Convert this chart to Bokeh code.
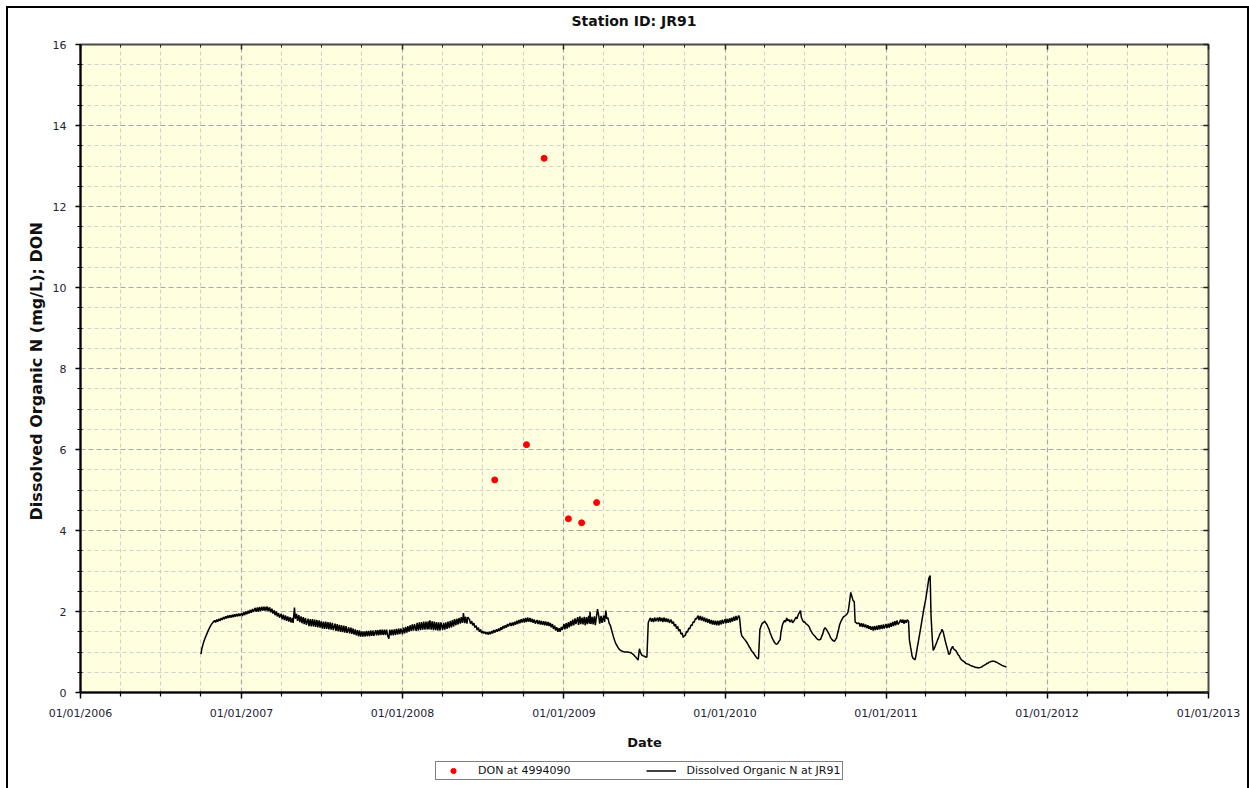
import pandas as pd
from bokeh.plotting import figure
from bokeh.layouts import column
from bokeh.models import (Range1d, FixedTicker, DatetimeAxis, LinearAxis,
                          DatetimeTickFormatter, Legend, LegendItem)
from bokeh.embed import file_html
from bokeh.resources import INLINE

# ---------------- data ----------------
title_text = "Station ID: JR91"
x_label = "Date"
y_label = "Dissolved Organic N  (mg/L); DON"
series_points_name = "DON at 4994090"
series_line_name = "Dissolved Organic N at JR91"

# grab samples of DON at 4994090
don_dates = ["2008-07-28", "2008-10-08", "2008-11-17", "2009-01-11", "2009-02-10", "2009-03-16"]
don_values = [5.25, 6.12, 13.19, 4.29, 4.19, 4.69]

# continuous record at JR91, read on 12 days of each month (Oct 2006 - Sep 2011) + 1 Oct 2011
line_first_month = "2006-10-01"
line_last_month = "2011-09-01"
line_days = [1, 3, 6, 8, 11, 13, 16, 18, 21, 23, 26, 28]
line_end_date = "2011-10-01"
line_values = [
    # 2006 Oct-Dec
    0.95, 1.08, 1.20, 1.27, 1.36, 1.41, 1.49, 1.54, 1.61, 1.65, 1.70, 1.73,
    1.78, 1.73, 1.80, 1.75, 1.82, 1.77, 1.84, 1.79, 1.86, 1.81, 1.88, 1.83,
    1.90, 1.84, 1.91, 1.85, 1.92, 1.86, 1.93, 1.87, 1.94, 1.88, 1.95, 1.89,
    # 2007
    1.96, 1.89, 1.98, 1.91, 2.00, 1.93, 2.02, 1.95, 2.04, 1.97, 2.06, 1.99,
    2.09, 1.99, 2.10, 2.00, 2.11, 2.01, 2.12, 2.02, 2.12, 2.02, 2.12, 2.02,
    2.12, 2.01, 2.10, 1.98, 2.07, 1.95, 2.03, 1.91, 2.00, 1.88, 1.96, 1.85,
    1.94, 1.81, 1.92, 1.79, 1.90, 1.77, 1.88, 1.75, 1.86, 1.73, 1.84, 1.72,
    2.10, 1.82, 1.94, 1.77, 1.91, 1.74, 1.88, 1.71, 1.86, 1.69, 1.84, 1.67,
    1.82, 1.64, 1.81, 1.63, 1.81, 1.63, 1.80, 1.62, 1.79, 1.61, 1.78, 1.60,
    1.76, 1.58, 1.75, 1.57, 1.75, 1.57, 1.74, 1.56, 1.73, 1.55, 1.72, 1.54,
    1.70, 1.52, 1.69, 1.51, 1.67, 1.50, 1.66, 1.49, 1.65, 1.48, 1.64, 1.47,
    1.61, 1.46, 1.60, 1.45, 1.58, 1.43, 1.56, 1.41, 1.54, 1.39, 1.53, 1.38,
    1.51, 1.38, 1.51, 1.38, 1.52, 1.39, 1.52, 1.39, 1.53, 1.40, 1.53, 1.40,
    1.54, 1.41, 1.54, 1.41, 1.55, 1.42, 1.55, 1.42, 1.55, 1.42, 1.55, 1.42,
    1.33, 1.55, 1.41, 1.55, 1.41, 1.56, 1.42, 1.57, 1.43, 1.58, 1.44, 1.58,
    # 2008
    1.44, 1.60, 1.46, 1.62, 1.48, 1.64, 1.50, 1.66, 1.52, 1.68, 1.53, 1.69,
    1.52, 1.72, 1.53, 1.73, 1.54, 1.74, 1.55, 1.75, 1.55, 1.75, 1.56, 1.76,
    1.56, 1.78, 1.55, 1.76, 1.54, 1.75, 1.54, 1.74, 1.53, 1.73, 1.53, 1.73,
    1.54, 1.72, 1.55, 1.73, 1.57, 1.75, 1.59, 1.77, 1.61, 1.79, 1.63, 1.81,
    1.66, 1.82, 1.68, 1.84, 1.70, 1.86, 1.72, 1.96, 1.71, 1.87, 1.70, 1.86,
    1.80, 1.70, 1.76, 1.66, 1.71, 1.60, 1.65, 1.54, 1.60, 1.50, 1.56, 1.47,
    1.52, 1.46, 1.50, 1.44, 1.49, 1.43, 1.50, 1.44, 1.52, 1.46, 1.54, 1.48,
    1.56, 1.50, 1.58, 1.52, 1.61, 1.55, 1.64, 1.58, 1.66, 1.60, 1.69, 1.63,
    1.72, 1.64, 1.73, 1.65, 1.75, 1.67, 1.77, 1.69, 1.79, 1.71, 1.81, 1.73,
    1.83, 1.73, 1.84, 1.74, 1.85, 1.75, 1.84, 1.74, 1.82, 1.72, 1.80, 1.70,
    1.79, 1.69, 1.78, 1.68, 1.77, 1.67, 1.76, 1.66, 1.75, 1.65, 1.74, 1.64,
    1.72, 1.61, 1.69, 1.57, 1.65, 1.53, 1.61, 1.50, 1.59, 1.50, 1.62, 1.54,
    # 2009
    1.69, 1.56, 1.71, 1.58, 1.74, 1.61, 1.77, 1.64, 1.80, 1.66, 1.83, 1.69,
    1.86, 1.67, 1.88, 1.69, 1.85, 1.68, 1.87, 1.66, 1.86, 1.69, 1.89, 1.70,
    2.00, 1.69, 1.87, 1.68, 1.88, 1.66, 1.90, 2.06, 1.88, 1.70, 1.89, 1.72,
    1.90, 1.74, 2.02, 1.82, 1.84, 1.72, 1.66, 1.58, 1.46, 1.38, 1.28, 1.22,
    1.16, 1.12, 1.07, 1.05, 1.03, 1.02, 1.01, 1.00, 1.00, 1.00, 1.00, 0.99,
    0.99, 0.97, 0.95, 0.93, 0.89, 0.87, 0.83, 0.80, 1.08, 1.00, 0.93, 0.91,
    0.90, 0.89, 0.87, 0.88, 1.72, 1.78, 1.84, 1.75, 1.83, 1.74, 1.85, 1.76,
    1.85, 1.75, 1.86, 1.76, 1.84, 1.74, 1.85, 1.75, 1.83, 1.74, 1.82, 1.72,
    1.80, 1.70, 1.75, 1.64, 1.69, 1.58, 1.63, 1.52, 1.56, 1.44, 1.47, 1.36,
    1.40, 1.41, 1.51, 1.49, 1.59, 1.57, 1.67, 1.65, 1.75, 1.73, 1.83, 1.81,
    1.90, 1.79, 1.89, 1.78, 1.87, 1.76, 1.85, 1.74, 1.83, 1.72, 1.81, 1.70,
    1.79, 1.68, 1.78, 1.67, 1.77, 1.66, 1.77, 1.66, 1.78, 1.68, 1.80, 1.70,
    # 2010
    1.81, 1.71, 1.82, 1.72, 1.83, 1.73, 1.85, 1.75, 1.87, 1.77, 1.89, 1.79,
    1.90, 1.85, 1.50, 1.40, 1.36, 1.33, 1.29, 1.26, 1.21, 1.17, 1.11, 1.08,
    1.05, 1.02, 0.98, 0.95, 0.90, 0.87, 0.83, 0.85, 1.55, 1.62, 1.70, 1.72,
    1.76, 1.72, 1.68, 1.63, 1.56, 1.48, 1.40, 1.34, 1.28, 1.24, 1.20, 1.19,
    1.22, 1.26, 1.30, 1.50, 1.66, 1.72, 1.78, 1.74, 1.84, 1.77, 1.80, 1.74,
    1.80, 1.72, 1.76, 1.80, 1.86, 1.82, 1.92, 1.96, 2.02, 1.86, 1.78, 1.74,
    1.74, 1.70, 1.68, 1.66, 1.62, 1.56, 1.50, 1.46, 1.42, 1.40, 1.36, 1.33,
    1.30, 1.30, 1.32, 1.38, 1.46, 1.55, 1.60, 1.57, 1.52, 1.48, 1.42, 1.36,
    1.30, 1.28, 1.26, 1.30, 1.35, 1.45, 1.58, 1.68, 1.76, 1.80, 1.86, 1.88,
    1.90, 1.92, 1.96, 2.05, 2.30, 2.47, 2.36, 2.28, 2.24, 1.74, 1.72, 1.70,
    1.72, 1.63, 1.71, 1.62, 1.70, 1.61, 1.68, 1.59, 1.66, 1.57, 1.64, 1.55,
    1.63, 1.53, 1.64, 1.54, 1.65, 1.55, 1.66, 1.56, 1.67, 1.57, 1.68, 1.58,
    # 2011 Jan-Sep
    1.69, 1.59, 1.70, 1.60, 1.72, 1.62, 1.74, 1.64, 1.76, 1.66, 1.78, 1.68,
    1.74, 1.80, 1.72, 1.80, 1.70, 1.79, 1.72, 1.80, 1.76, 1.30, 1.10, 0.98,
    0.90, 0.85, 0.82, 0.81, 0.98, 1.12, 1.30, 1.43, 1.62, 1.75, 1.95, 2.08,
    2.30, 2.45, 2.66, 2.82, 2.89, 1.90, 1.30, 1.04, 1.10, 1.16, 1.24, 1.30,
    1.38, 1.44, 1.50, 1.56, 1.48, 1.38, 1.24, 1.16, 1.04, 0.94, 0.96, 1.06,
    1.14, 1.08, 1.05, 1.04, 0.98, 0.94, 0.90, 0.85, 0.81, 0.79, 0.77, 0.75,
    0.72, 0.71, 0.70, 0.69, 0.67, 0.66, 0.65, 0.64, 0.63, 0.62, 0.62, 0.61,
    0.61, 0.62, 0.63, 0.65, 0.67, 0.68, 0.70, 0.72, 0.73, 0.75, 0.76, 0.77,
    0.77, 0.77, 0.76, 0.75, 0.73, 0.72, 0.70, 0.69, 0.67, 0.66, 0.65, 0.64,
    # 2011-10-01
    0.63,
]

x_start, x_end = "2006-01-01", "2013-01-01"
tick_years = list(range(2006, 2014))
y_max = 16
y_major = list(range(0, 17, 2))
y_minor = [v / 2 for v in range(0, 33) if v % 4 != 0]

# ---------------- build ----------------
months = pd.date_range(line_first_month, line_last_month, freq="MS")
line_dates = [m + pd.Timedelta(days=d - 1) for m in months for d in line_days]
line_dates.append(pd.Timestamp(line_end_date))
n = min(len(line_dates), len(line_values))
line_dates, line_y = line_dates[:n], line_values[:n]
don_ts = pd.to_datetime(don_dates)


def ms(s):
    return pd.Timestamp(s).value / 1e6


x_major = [ms(f"{y}-01-01") for y in tick_years]
x_minor = [ms(f"{y}-{m:02d}-01") for y in tick_years[:-1] for m in (4, 7, 10)]

FONT = "DejaVu Sans"
TICK_COLOR = "#1e2233"
W = 1239
LINE_KW = dict(line_color="black", line_width=1.5)
PTS_KW = dict(size=6, fill_color="#ff0000", line_color="#ff0000")

xr = Range1d(pd.Timestamp(x_start), pd.Timestamp(x_end))
p = figure(width=W, height=750, x_axis_type="datetime",
           x_range=xr, y_range=Range1d(0, y_max),
           output_backend="svg", toolbar_location=None,
           min_border_left=72, min_border_right=39,
           min_border_top=36, min_border_bottom=66)

p.background_fill_color = "#FFFFE0"
p.border_fill_color = "white"
p.outline_line_color = "#4a4a4a"
p.outline_line_width = 2

p.title.text = title_text
p.title.align = "left"
p.title.offset = 491
p.title.standoff = 7
p.title.vertical_align = "top"
p.title.text_font = FONT
p.title.text_font_size = "14px"
p.title.text_font_style = "bold"
p.title.text_color = "#111111"

# x axis (bottom)
xt = FixedTicker(ticks=x_major, minor_ticks=x_minor)
xa = p.xaxis[0]
xa.ticker = xt
fmt = "%m/%d/%Y"
xa.formatter = DatetimeTickFormatter(years=fmt, months=fmt, days=fmt, hours=fmt,
                                     hourmin=fmt, minutes=fmt, minsec=fmt,
                                     seconds=fmt, milliseconds=fmt, microseconds=fmt)
xa.axis_label = x_label
xa.axis_label_text_font = FONT
xa.axis_label_text_font_size = "13px"
xa.axis_label_text_font_style = "bold"
xa.axis_label_text_color = "#111111"
xa.axis_label_standoff = 12
xa.major_label_text_font = FONT
xa.major_label_text_font_size = "11px"
xa.major_label_text_color = TICK_COLOR
xa.major_label_standoff = 8
xa.axis_line_color = "black"
xa.axis_line_width = 2
xa.major_tick_in = 0
xa.major_tick_out = 6
xa.minor_tick_in = 1
xa.minor_tick_out = 4
xa.major_tick_line_color = "black"
xa.minor_tick_line_color = "black"
xa.major_tick_line_width = 1.5
xa.minor_tick_line_width = 1.2

# y axis (left)
yt = FixedTicker(ticks=y_major, minor_ticks=y_minor)
ya = p.yaxis[0]
ya.ticker = yt
ya.axis_label = y_label
ya.axis_label_text_font = FONT
ya.axis_label_text_font_size = "16px"
ya.axis_label_text_font_style = "bold"
ya.axis_label_text_color = "#111111"
ya.axis_label_standoff = 4
ya.major_label_text_font = FONT
ya.major_label_text_font_size = "11px"
ya.major_label_text_color = TICK_COLOR
ya.major_label_standoff = 9
ya.axis_line_color = "black"
ya.axis_line_width = 2
ya.major_tick_in = 0
ya.major_tick_out = 5
ya.minor_tick_in = 2
ya.minor_tick_out = 3
ya.major_tick_line_color = "black"
ya.minor_tick_line_color = "black"
ya.major_tick_line_width = 1.5
ya.minor_tick_line_width = 1.2

# mirror axes (ticks only) + an invisible spacer that lifts the title
top = DatetimeAxis(ticker=xt, major_label_text_font_size="0px", axis_line_color=None,
                   major_tick_in=5, major_tick_out=0, minor_tick_in=3, minor_tick_out=0,
                   major_tick_line_color="#222222", minor_tick_line_color="#222222",
                   major_tick_line_width=1.5, major_label_standoff=0)
p.add_layout(top, "above")
spacer = DatetimeAxis(ticker=xt, major_label_text_font_size="0px", axis_line_color=None,
                      major_tick_in=0, major_tick_out=10, minor_tick_in=0, minor_tick_out=0,
                      major_tick_line_color=None, minor_tick_line_color=None,
                      major_label_standoff=0)
p.add_layout(spacer, "above")
right = LinearAxis(ticker=yt, major_label_text_font_size="0px", axis_line_color=None,
                   major_tick_in=5, major_tick_out=0, minor_tick_in=3, minor_tick_out=0,
                   major_tick_line_color="#222222", minor_tick_line_color="#222222",
                   major_tick_line_width=1.5, major_label_standoff=0)
p.add_layout(right, "right")

# grids
for g in (p.xgrid[0], p.ygrid[0]):
    g.grid_line_color = "#a8a8a8"
    g.grid_line_dash = "5 3"
    g.grid_line_width = 1.2
    g.minor_grid_line_color = "#cfcfcf"
    g.minor_grid_line_dash = "4 3"
    g.minor_grid_line_width = 1

# series
p.line(line_dates, line_y, **LINE_KW)
p.scatter(don_ts, don_values, **PTS_KW)

# legend strip below the chart (same series, drawn outside its visible y window)
lf = figure(width=W, height=30, x_range=xr, y_range=Range1d(-2, -1),
            x_axis_type="datetime",
            output_backend="svg", toolbar_location=None,
            x_axis_location=None, y_axis_location=None, min_border=0)
lf.grid.visible = False
lf.outline_line_color = None
lf.background_fill_color = "white"
lf.border_fill_color = "white"
k_pts = lf.scatter(don_ts, don_values, **PTS_KW)
k_line = lf.line(line_dates, line_y, **LINE_KW)
legend = Legend(items=[LegendItem(label=series_points_name, renderers=[k_pts]),
                       LegendItem(label=series_line_name, renderers=[k_line])],
                location=(355, 8), orientation="horizontal",
                border_line_color="black", border_line_width=1,
                background_fill_color="white", background_fill_alpha=1,
                padding=2, spacing=76, margin=0, label_standoff=10,
                glyph_width=30, glyph_height=13, label_height=13,
                label_text_font=FONT, label_text_font_size="11px",
                label_text_color="#111111")
lf.add_layout(legend)

page = column(p, lf, spacing=0, margin=(6, 0, 0, 6),
              styles={"border-left": "2px solid black", "border-top": "2px solid black",
                      "border-right": "2px solid black"})

open("out.html", "w").write(file_html(page, INLINE))
